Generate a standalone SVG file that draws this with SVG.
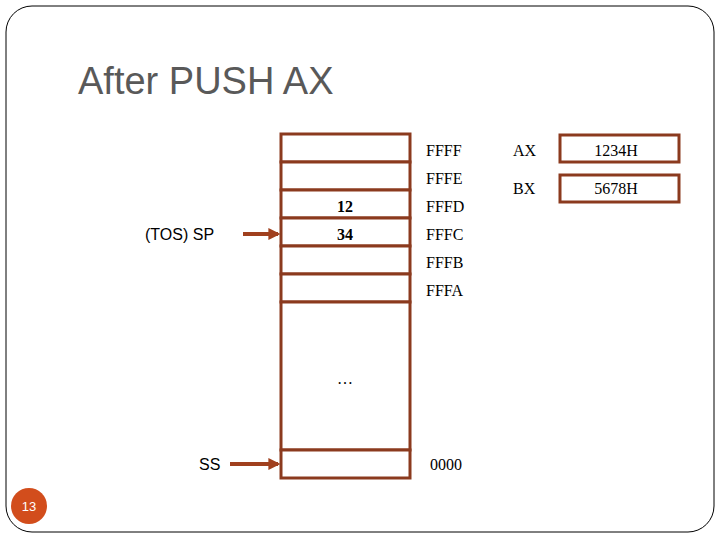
<svg xmlns="http://www.w3.org/2000/svg" width="720" height="540" viewBox="0 0 720 540">
<style>
.c{fill:#fff;stroke:#8b3a1e;stroke-width:3}
.t{font-family:"Liberation Serif",serif;font-size:16px;fill:#000}
.s{font-family:"Liberation Sans",sans-serif;font-size:16px;fill:#000}
.a{stroke:#a0401e;stroke-width:4;fill:none}
</style>
<defs><marker id="ah" viewBox="0 0 10 10" refX="8" refY="5" markerWidth="3" markerHeight="3" orient="auto"><path d="M0,0L10,5L0,10z" fill="#a0401e"/></marker></defs>
<rect x="6" y="6" width="708" height="526" rx="26" fill="#fff" stroke="#000" stroke-width="1"/>
<text x="78" y="94" font-family="Liberation Sans,sans-serif" font-size="38" fill="#595959">After PUSH AX</text>
<g id="stack">
<rect class="c" x="281" y="134" width="129" height="28"/>
<rect class="c" x="281" y="162" width="129" height="28"/>
<rect class="c" x="281" y="190" width="129" height="28"/>
<rect class="c" x="281" y="218" width="129" height="28"/>
<rect class="c" x="281" y="246" width="129" height="28"/>
<rect class="c" x="281" y="274" width="129" height="28"/>
<rect class="c" x="281" y="302" width="129" height="148"/>
<rect class="c" x="281" y="450" width="129" height="28"/>
<text class="t" x="345" y="212" text-anchor="middle" font-weight="bold">12</text>
<text class="t" x="345" y="240" text-anchor="middle" font-weight="bold">34</text>
<text class="t" x="345" y="384" text-anchor="middle">…</text>
</g>
<g id="addr" class="t">
<text class="t" x="426" y="156">FFFF</text>
<text class="t" x="426" y="184">FFFE</text>
<text class="t" x="426" y="212">FFFD</text>
<text class="t" x="426" y="240">FFFC</text>
<text class="t" x="426" y="268">FFFB</text>
<text class="t" x="426" y="296">FFFA</text>
<text class="t" x="430" y="470">0000</text>
</g>
<g id="regs">
<text class="t" x="513" y="156">AX</text>
<rect class="c" x="523" y="135" width="156" height="27" transform="translate(37,0) scale(1)" style="display:none"/>
<rect class="c" x="560" y="135" width="119" height="27"/>
<text class="t" x="616" y="156" text-anchor="middle">1234H</text>
<text class="t" x="513" y="194">BX</text>
<rect class="c" x="560" y="175" width="119" height="27"/>
<text class="t" x="616" y="194" text-anchor="middle">5678H</text>
</g>
<g id="labels">
<text class="s" x="145" y="240">(TOS) SP</text>
<text class="s" x="199" y="470">SS</text>
</g>
<g id="connectors">
<line class="a" x1="243" y1="234" x2="278" y2="234" marker-end="url(#ah)"/>
<line class="a" x1="230" y1="464" x2="278" y2="464" marker-end="url(#ah)"/>
</g>
<circle cx="29" cy="506" r="18" fill="#d24d1c"/>
<text x="29" y="511" text-anchor="middle" font-family="Liberation Sans,sans-serif" font-size="13" fill="#fff">13</text>
</svg>
